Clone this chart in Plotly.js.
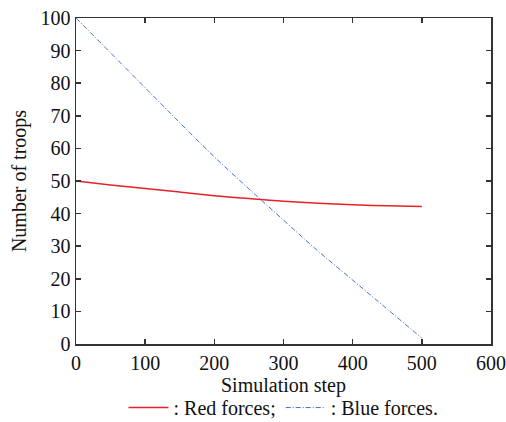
<!DOCTYPE html>
<html>
<head>
<meta charset="utf-8">
<script src="https://cdn.plot.ly/plotly-3.0.1.min.js"></script>
<style>html,body{margin:0;padding:0;background:#fff;}#chart{width:506px;height:422px;}</style>
</head>
<body>
<div id="chart"></div>
<script>
const steps = [0, 50, 100, 150, 200, 250, 300, 350, 400, 450, 500];
const redForces = [50, 48.8, 47.7, 46.6, 45.5, 44.6, 43.8, 43.2, 42.7, 42.4, 42.2];
const blueForces = [100, 89.3, 78.6, 67.9, 57.4, 47.6, 38.0, 28.5, 19.6, 10.7, 1.8];
const xTicks = [0, 100, 200, 300, 400, 500, 600];
const yTicks = [0, 10, 20, 30, 40, 50, 60, 70, 80, 90, 100];

const font = {family: '"Liberation Serif", "Times New Roman", serif', size: 20, color: '#111'};

const traces = [
  {x: steps, y: redForces, type: 'scatter', mode: 'lines', name: ': Red forces;',
   line: {color: 'rgb(232,32,40)', width: 1.5, shape: 'spline'}},
  {x: steps, y: blueForces, type: 'scatter', mode: 'lines', name: ': Blue forces.',
   line: {color: 'rgb(70,110,205)', width: 1, dash: '5px,2px,1px,2px', shape: 'spline'}}
];

const axisCommon = {
  showgrid: false, zeroline: false, showline: true, linecolor: '#333', linewidth: 1.5,
  mirror: 'allticks', ticks: 'inside', ticklen: 5, tickwidth: 1.5, tickcolor: '#333',
  tickfont: font, automargin: false
};

const layout = {
  width: 506, height: 422,
  margin: {l: 76, r: 15, t: 18, b: 78, autoexpand: false},
  paper_bgcolor: '#fff', plot_bgcolor: '#fff',
  font: font,
  showlegend: true,
  legend: {orientation: 'h', x: 0.5, xanchor: 'center', y: -0.195, yanchor: 'middle',
           font: font, bgcolor: 'rgba(0,0,0,0)', itemwidth: 40, traceorder: 'normal'},
  xaxis: Object.assign({}, axisCommon, {range: [0, 600], tickvals: xTicks, ticktext: xTicks.map(String),
    title: {text: 'Simulation step', font: font, standoff: 0}}),
  yaxis: Object.assign({}, axisCommon, {range: [0, 100], tickvals: yTicks, ticktext: yTicks.map(String),
    title: {text: 'Number of troops', font: font, standoff: 8}})
};

Plotly.newPlot('chart', traces, layout, {displayModeBar: false, staticPlot: true});
</script>
</body>
</html>
